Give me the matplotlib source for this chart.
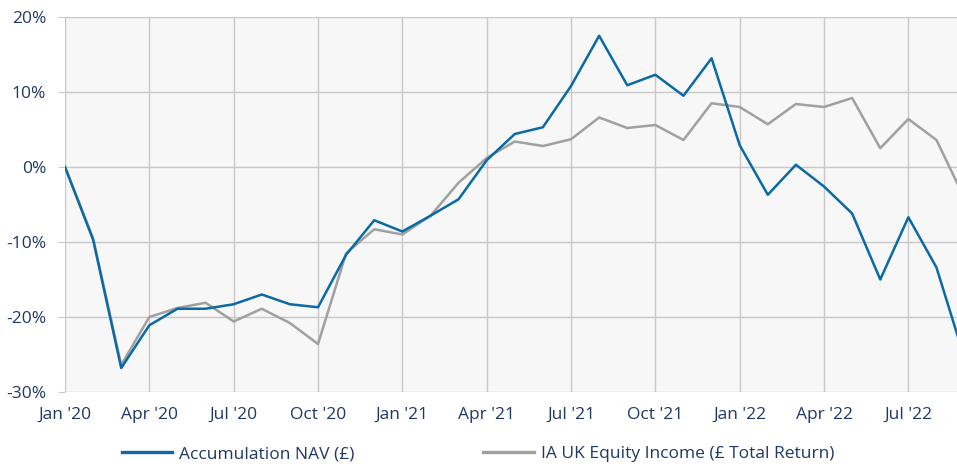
import matplotlib.pyplot as plt
from matplotlib.ticker import FuncFormatter

months = list(range(33))  # Jan '20 .. Sep '22, month index
nav = [0.0, -9.7, -26.8, -21.1, -18.9, -18.9, -18.3, -17.0, -18.3, -18.7,
       -11.7, -7.1, -8.6, -6.5, -4.3, 0.9, 4.4, 5.3, 10.8, 17.5,
       10.9, 12.3, 9.5, 14.5, 2.9, -3.7, 0.3, -2.6, -6.2, -15.0,
       -6.7, -13.4, -25.5]
sector = [0.0, -9.5, -26.4, -20.0, -18.8, -18.1, -20.6, -18.9, -20.8, -23.6,
          -11.5, -8.3, -9.0, -6.5, -2.1, 1.2, 3.4, 2.8, 3.7, 6.6,
          5.2, 5.6, 3.6, 8.5, 8.0, 5.7, 8.4, 8.0, 9.2, 2.5,
          6.4, 3.6, -4.2]
tick_pos = [0, 3, 6, 9, 12, 15, 18, 21, 24, 27, 30]
tick_labels = ["Jan '20", "Apr '20", "Jul '20", "Oct '20", "Jan '21", "Apr '21",
               "Jul '21", "Oct '21", "Jan '22", "Apr '22", "Jul '22"]

plt.rcParams['font.family'] = ['Open Sans', 'DejaVu Sans']
text_col = '#1f3864'

fig = plt.figure(figsize=(9.57, 4.66), dpi=100)
ax = fig.add_axes([65 / 957, 1 - 392 / 466, 1 - 65 / 957, (392 - 17) / 466])
ax.set_facecolor('#f7f7f7')

ax.plot(months, nav, color='#0a6aa4', linewidth=1.8, label='Accumulation NAV (£)', zorder=3)
ax.plot(months, sector, color='#a0a0a0', linewidth=1.8,
        label='IA UK Equity Income (£ Total Return)', zorder=2)

ax.set_xlim(0, 31.73)
ax.set_ylim(-30, 20)
ax.set_xticks(tick_pos)
ax.set_xticklabels(tick_labels)
ax.set_yticks(range(-30, 21, 10))
ax.yaxis.set_major_formatter(FuncFormatter(lambda v, p: f'{v:.0f}%'))
ax.grid(True, color='#c8c8c8', linewidth=1)
ax.set_axisbelow(True)
for s in ax.spines.values():
    s.set_visible(False)
ax.tick_params(axis='y', length=5, color='#c8c8c8', labelsize=12.5, labelcolor=text_col, pad=8.5)
ax.tick_params(axis='x', length=0, labelsize=12.5, labelcolor=text_col, pad=11)

leg = fig.legend(loc='center', bbox_to_anchor=(478 / 957, 1 - 454 / 466), ncol=2,
                 frameon=False, fontsize=12.5, handlelength=2.9, handletextpad=0.4,
                 columnspacing=7.4, labelcolor=text_col)
for h in leg.get_lines():
    h.set_linewidth(2.4)

plt.savefig('out.png', dpi=100)
plt.close()
